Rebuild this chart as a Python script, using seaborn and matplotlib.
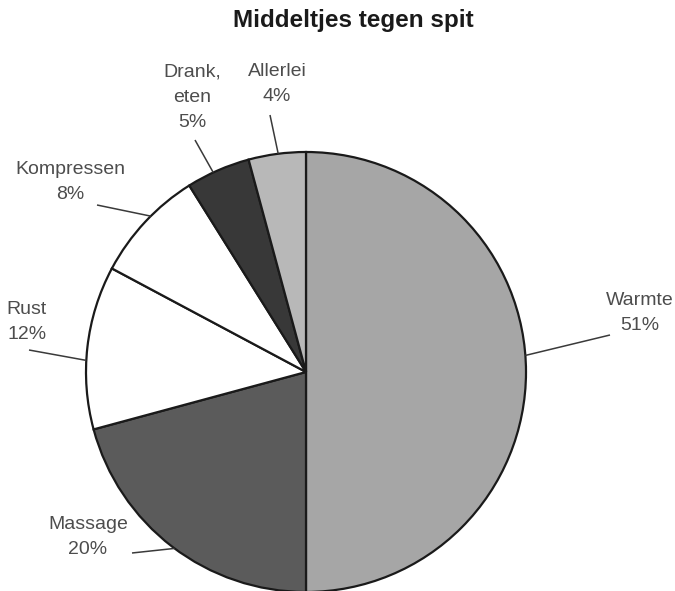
import numpy as np
import matplotlib
matplotlib.use("Agg")
import matplotlib.pyplot as plt
import seaborn as sns

# ---- data ----
categories = ["Warmte", "Massage", "Rust", "Kompressen", "Drank,\neten", "Allerlei"]
# slice sizes as drawn in the picture (the printed labels are below)
values = [50.0, 20.8, 12.0, 8.3, 4.7, 4.2]
pct_labels = ["51%", "20%", "12%", "8%", "5%", "4%"]
colors = ["#a6a6a6", "#5b5b5b", "#ffffff", "#ffffff", "#383838", "#b8b8b8"]
title = "Middeltjes tegen spit"

sns.set_theme(style="white")
plt.rcParams["font.family"] = ["Liberation Sans", "DejaVu Sans"]

W, H = 675, 591
fig = plt.figure(figsize=(W / 100, H / 100), dpi=100)
ax = fig.add_axes([0, 0, 1, 1])

cx, cy, R = 306, H - 372, 220
wedges, _ = ax.pie(values, colors=colors, startangle=90, counterclock=False,
                   center=(cx, cy), radius=R, frame=True,
                   wedgeprops=dict(edgecolor="#1a1a1a", linewidth=1.6))
ax.set_xlim(0, W)
ax.set_ylim(0, H)
ax.set_aspect("equal")
ax.axis("off")

# label layout (pixel coords: text centre, leader outer end, anchor fraction in slice)
text_pos = [(640, 313), (88, 537), (27, 322), (70, 182), (192, 97), (277, 84)]
line_out = [(610, 335), (132, 553), (29, 350), (97, 205), (195, 140), (270, 115)]
anchor_frac = [0.476, 0.49, 0.42, 0.57, 0.42, 0.52]

start = 90.0
total = float(sum(values))
for i, (cat, v, p) in enumerate(zip(categories, values, pct_labels)):
    span = 360.0 * v / total
    ang = np.deg2rad(start - span * anchor_frac[i])
    start -= span
    px, py = cx + R * np.cos(ang), cy + R * np.sin(ang)
    ox, oy = line_out[i]
    ax.plot([ox, px], [H - oy, py], color="#3a3a3a", lw=1.1, solid_capstyle="butt")
    tx, ty = text_pos[i]
    ax.text(tx, H - ty, f"{cat}\n{p}", ha="center", va="center",
            multialignment="center", fontsize=14, color="#4d4d4d", linespacing=1.62)

fig.text(353 / W, 1 - 20 / H, title, ha="center", va="center",
         fontsize=17.5, fontweight="bold", color="#1a1a1a")

fig.savefig("out.png", dpi=100, facecolor="white")
